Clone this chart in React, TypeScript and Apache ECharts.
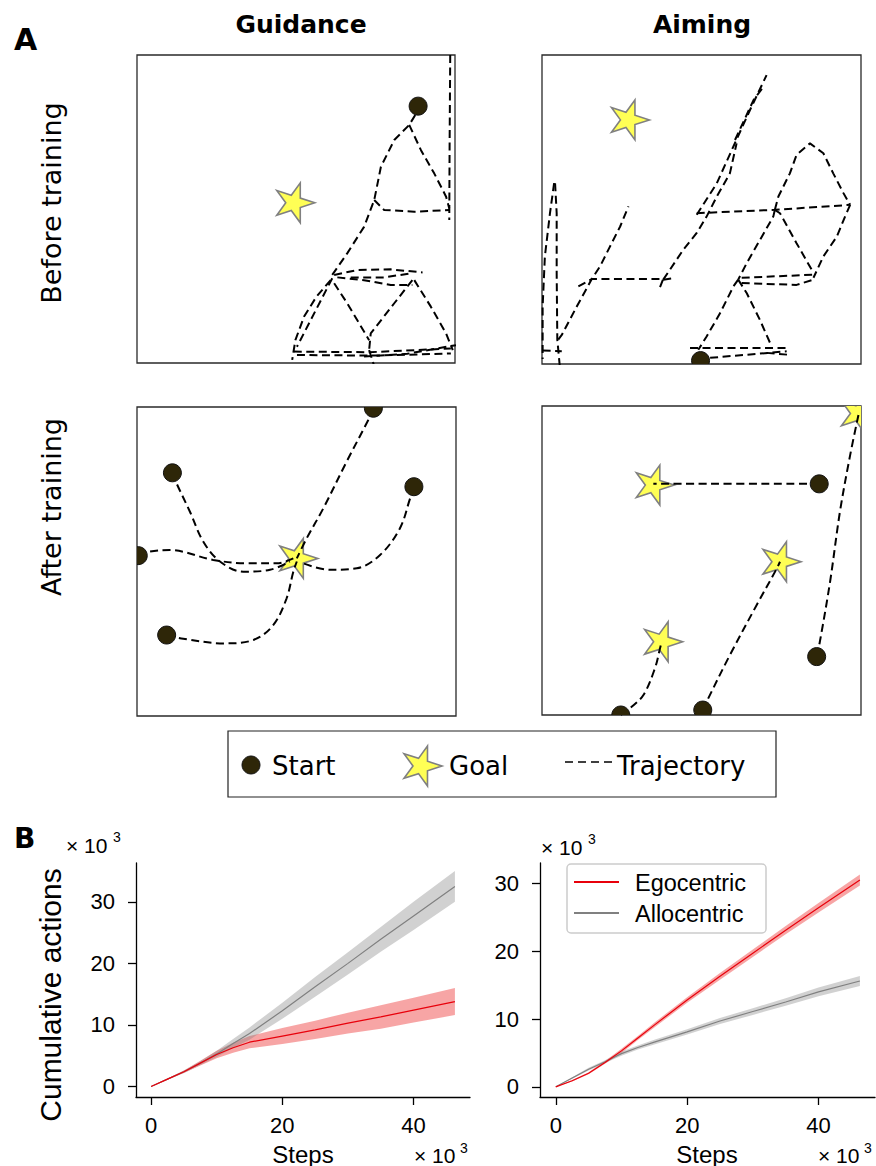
import React, { useEffect, useRef } from "react";
import * as echarts from "echarts";

// ---------------- Panel A data (panel coordinates, 0-100) ----------------
const guidanceBeforeStarts = [[88.4, 83.4]];
const guidanceBeforeGoals = [[49.3, 52.0]];
const guidanceBeforeTraj = [
  [[98.5, 100], [98.3, 70], [98.2, 46.4]],
  [[87.5, 80.5], [85.6, 77.3], [80.9, 72.4], [76.7, 63.7], [74.6, 52.9], [71.4, 44.2], [66.1, 35.6], [61.4, 28.6]],
  [[85.6, 77.3], [89.3, 69.1], [93.5, 61.5], [97.2, 54.0], [98.2, 50.2]],
  [[74.6, 52.9], [77.7, 49.7], [87.2, 49.1], [98.2, 49.7]],
  [[62.0, 28.6], [69.3, 30.2], [79.8, 30.4], [89.8, 29.4]],
  [[63.0, 27.8], [71.4, 26.9], [79.8, 25.3], [86.6, 25.3]],
  [[67.2, 27.8], [77.7, 27.8], [86.1, 29.1]],
  [[60.9, 26.9], [56.4, 21.5], [52.5, 15.0], [49.8, 7.4], [48.8, 1.0]],
  [[61.4, 27.5], [50.3, 5.3]],
  [[62.0, 25.9], [66.1, 19.4], [73.0, 7.4]],
  [[86.6, 26.9], [80.9, 19.4], [73.5, 9.6], [73.0, 4.2]],
  [[87.2, 26.9], [92.4, 18.3], [97.2, 9.6], [99.3, 4.2]],
  [[49.3, 3.7], [73.0, 3.5], [98.7, 4.7]],
  [[50.3, 2.6], [75.0, 2.4], [98.7, 3.1]],
  [[71.4, 2.1], [85.0, 3.0], [100.3, 5.8]],
  [[73.0, 4.2], [74.6, -1]],
];

const aimingBeforeStarts = [[49.7, 1.1]];
const aimingBeforeGoals = [[27.1, 79.0]];
const aimingBeforeTraj = [
  [[4.1, 58.5], [4.6, 48.8], [4.6, 29.5], [4.8, 7.9], [5.6, -1]],
  [[3.8, 58.5], [2.5, 48.8], [0.9, 34.8], [0.2, 18.6], [0.2, 1.6]],
  [[0.2, 4.4], [6.2, 4.1]],
  [[5.1, 7.9], [6.2, 9.4], [10.9, 18.6], [15.6, 27.5], [18.2, 31.6], [21.3, 38.0], [24.5, 44.5], [27.1, 51.0]],
  [[11.4, 25.1], [15.6, 27.5], [38.0, 27.5], [36.9, 24.6]],
  [[38.0, 27.3], [41.7, 27.8]],
  [[38.0, 27.3], [40.1, 30.5], [44.3, 37.0], [48.5, 42.4], [51.6, 47.7], [54.8, 54.2], [58.9, 61.7], [61.0, 71.4]],
  [[48.5, 48.3], [54.8, 58.5], [60.0, 70.4], [65.2, 82.2], [70.4, 93.5]],
  [[60.5, 72.5], [66.3, 85.4], [69.4, 89.7]],
  [[48.5, 48.8], [73.0, 49.9], [96.6, 51.5]],
  [[73.0, 49.9], [74.1, 54.2], [77.7, 61.7], [79.8, 67.7], [84.0, 71.4], [88.2, 68.2], [91.3, 61.7], [94.5, 55.3], [96.6, 51.5]],
  [[96.6, 51.5], [95.0, 47.7], [92.4, 41.2], [88.2, 34.8], [85.1, 27.9]],
  [[73.0, 49.9], [74.6, 48.8], [79.8, 39.1], [85.1, 29.5]],
  [[73.0, 49.9], [72.5, 47.7], [68.3, 40.1], [64.2, 32.7], [61.5, 27.3]],
  [[62.6, 27.9], [85.1, 28.9]],
  [[62.6, 26.2], [79.8, 25.6], [85.1, 27.3]],
  [[61.5, 27.3], [60.0, 25.1], [55.8, 16.4], [51.6, 8.9], [49.0, 4.6]],
  [[61.5, 27.3], [64.2, 22.9], [68.3, 14.3], [71.5, 6.8]],
  [[46.4, 5.2], [77.7, 5.2]],
  [[52.7, 2.0], [76.7, 4.1]],
  [[70.4, 3.6], [77.2, 3.0]],
];

const guidanceAfterStarts = [[74.1, 99.6], [11.1, 78.7], [86.8, 74.2], [0.4, 51.9], [9.3, 26.2]];
const guidanceAfterGoals = [[50.1, 51.0]];
const guidanceAfterTraj = [
  [[74.1, 99.6], [72.5, 95.8], [65.7, 82.3], [58.4, 67.2], [53.2, 57.5], [50.1, 51.0]],
  [[11.1, 78.7], [12.4, 75.3], [16.6, 66.1], [20.8, 56.4], [26.0, 50.0], [33.3, 46.7], [41.7, 47.3], [47.9, 50.0]],
  [[0.4, 51.9], [4.1, 53.2], [10.3, 53.7], [23.9, 50.5], [34.4, 49.4], [43.8, 49.4], [49.0, 51.0]],
  [[86.8, 74.2], [85.6, 70.4], [82.4, 60.7], [76.2, 52.1], [68.9, 47.8], [60.5, 47.3], [52.1, 49.4]],
  [[9.3, 26.2], [14.5, 25.0], [27.1, 23.5], [36.5, 24.6], [42.7, 29.4], [46.9, 38.1], [49.0, 46.7], [50.1, 50.0]],
];

const aimingAfterStarts = [[86.9, 74.8], [86.1, 18.9], [50.4, 1.6], [24.7, 0.0]];
const aimingAfterGoals = [[34.9, 74.4], [74.6, 49.6], [37.5, 23.7], [99.2, 97.6]];
const aimingAfterTraj = [
  [[86.9, 74.8], [34.9, 74.8]],
  [[86.1, 18.9], [87.1, 23.7], [90.3, 43.1], [93.4, 65.8], [96.6, 84.1], [99.2, 97.1]],
  [[50.4, 1.6], [51.6, 4.3], [58.9, 19.4], [67.3, 35.6], [73.6, 47.4], [74.6, 49.6]],
  [[24.7, 0.0], [27.6, 2.2], [31.8, 6.5], [35.4, 15.1], [37.0, 21.6], [37.5, 23.7]],
];

// ---------------- Panel B data (x 10^3) ----------------
const steps = [0, 2.5, 5, 7.5, 10, 12.5, 15, 20, 25, 30, 35, 40, 46.3];
const xTicks = [0, 20, 40];
const yTicks = [0, 10, 20, 30];

const guidanceEgoMean = [0, 1.2, 2.4, 3.8, 5.2, 6.3, 7.2, 8.2, 9.2, 10.3, 11.3, 12.4, 13.8];
const guidanceEgoLow = [0, 1.1, 2.2, 3.4, 4.6, 5.5, 6.2, 6.9, 7.7, 8.6, 9.4, 10.4, 11.6];
const guidanceEgoHigh = [0, 1.3, 2.6, 4.2, 5.8, 7.1, 8.2, 9.5, 10.7, 12.0, 13.2, 14.4, 16.0];
const guidanceAlloMean = [0, 1.2, 2.4, 3.8, 5.3, 7.0, 8.6, 12.3, 16.2, 20.0, 23.9, 27.7, 32.5];
const guidanceAlloLow = [0, 1.1, 2.2, 3.5, 4.8, 6.3, 7.6, 11.0, 14.6, 18.2, 21.9, 25.4, 30.0];
const guidanceAlloHigh = [0, 1.3, 2.6, 4.1, 5.8, 7.7, 9.6, 13.6, 17.8, 21.8, 25.9, 30.0, 35.0];

const aimingEgoMean = [0, 0.9, 2.0, 3.6, 5.3, 7.2, 9.1, 12.8, 16.3, 19.7, 23.1, 26.4, 30.5];
const aimingEgoLow = [0, 0.8, 1.85, 3.4, 5.0, 6.9, 8.75, 12.4, 15.8, 19.15, 22.5, 25.7, 29.7];
const aimingEgoHigh = [0, 1.0, 2.15, 3.8, 5.6, 7.5, 9.45, 13.2, 16.8, 20.25, 23.7, 27.1, 31.3];
const aimingAlloMean = [0, 1.3, 2.6, 3.7, 4.9, 5.8, 6.6, 8.1, 9.7, 11.1, 12.5, 14.0, 15.6];
const aimingAlloLow = [0, 1.2, 2.4, 3.5, 4.6, 5.5, 6.25, 7.7, 9.25, 10.6, 11.95, 13.35, 14.85];
const aimingAlloHigh = [0, 1.4, 2.8, 3.9, 5.2, 6.1, 6.95, 8.5, 10.15, 11.6, 13.05, 14.65, 16.35];

// ---------------- helpers ----------------
const STAR_FILL = "#ffff55";
const STAR_STROKE = "#808080";
const START_FILL = "#2e2608";
const EGO = "#e8000b";
const ALLO = "#808080";
const EGO_BAND = "rgba(235,30,30,0.4)";
const ALLO_BAND = "rgba(128,128,128,0.36)";
const FA = "DejaVu Sans";
const FB = "Liberation Sans";
const DASH = [8, 4.5];

function starPoints(cx: number, cy: number, R: number) {
  const pts: number[][] = [];
  for (let k = 0; k < 10; k++) {
    const a = ((18 + 36 * k) * Math.PI) / 180;
    const r = k % 2 === 0 ? R : R * 0.382;
    pts.push([cx + r * Math.sin(a), cy - r * Math.cos(a)]);
  }
  return pts;
}

function panelSeries(idx: number, traj: number[][][], starts: number[][], goals: number[][], smooth: boolean) {
  const out: any[] = [];
  out.push({
    type: "custom",
    xAxisIndex: idx,
    yAxisIndex: idx,
    data: goals,
    clip: true,
    silent: true,
    z: 2,
    renderItem: (params: any, api: any) => {
      const p = api.coord([api.value(0), api.value(1)]);
      return {
        type: "polygon",
        shape: { points: starPoints(p[0], p[1], 21) },
        style: { fill: STAR_FILL, stroke: STAR_STROKE, lineWidth: 1.6 },
      };
    },
  });
  traj.forEach((t) => {
    out.push({
      type: "line",
      xAxisIndex: idx,
      yAxisIndex: idx,
      data: t,
      symbol: "none",
      showSymbol: false,
      smooth: smooth ? 0.35 : false,
      clip: true,
      silent: true,
      z: 3,
      lineStyle: { color: "#000", width: 2, type: DASH },
    });
  });
  out.push({
    type: "custom",
    xAxisIndex: idx,
    yAxisIndex: idx,
    data: starts,
    clip: true,
    silent: true,
    z: 4,
    renderItem: (params: any, api: any) => {
      const p = api.coord([api.value(0), api.value(1)]);
      return {
        type: "circle",
        shape: { cx: p[0], cy: p[1], r: 9 },
        style: { fill: START_FILL, stroke: "#111", lineWidth: 1 },
      };
    },
  });
  return out;
}

function bandSeries(idx: number, lo: number[], hi: number[], color: string) {
  return {
    type: "custom",
    xAxisIndex: idx,
    yAxisIndex: idx,
    silent: true,
    z: 1,
    data: steps.map((x, i) => [x, lo[i], hi[i]]),
    encode: { x: 0, y: [1, 2] },
    renderItem: (params: any, api: any) => {
      if (params.dataIndex !== 0) return { type: "group", children: [] };
      const pts: number[][] = [];
      for (let i = 0; i < steps.length; i++) pts.push(api.coord([steps[i], hi[i]]));
      for (let i = steps.length - 1; i >= 0; i--) pts.push(api.coord([steps[i], lo[i]]));
      return { type: "polygon", shape: { points: pts }, style: { fill: color } };
    },
  };
}

function meanSeries(idx: number, name: string, vals: number[], color: string) {
  return {
    type: "line",
    name,
    xAxisIndex: idx,
    yAxisIndex: idx,
    data: steps.map((x, i) => [x, vals[i]]),
    symbol: "none",
    showSymbol: false,
    silent: true,
    z: 3,
    lineStyle: { color, width: 1.2 },
  };
}

const hiddenAxis = (i: number) => ({ type: "value", gridIndex: i, min: 0, max: 100, show: false });

const bXAxis = (i: number, min: number, max: number) => ({
  type: "value",
  gridIndex: i,
  min,
  max,
  axisLine: { show: true, onZero: false, lineStyle: { color: "#000", width: 1.3 } },
  axisTick: { show: true, length: 8, customValues: xTicks, lineStyle: { color: "#000", width: 1.3 } },
  axisLabel: { customValues: xTicks, color: "#000", fontSize: 22, fontFamily: FB, margin: 17 },
  splitLine: { show: false },
});

const bYAxis = (i: number, min: number, max: number) => ({
  type: "value",
  gridIndex: i,
  min,
  max,
  axisLine: { show: true, onZero: false, lineStyle: { color: "#000", width: 1.3 } },
  axisTick: { show: true, length: 8, customValues: yTicks, lineStyle: { color: "#000", width: 1.3 } },
  axisLabel: { customValues: yTicks, color: "#000", fontSize: 22, fontFamily: FB, margin: 21 },
  splitLine: { show: false },
});

function txt(text: string, x: number, y: number, font: string, align = "left", extra: any = {}) {
  return {
    type: "text",
    x,
    y,
    silent: true,
    ...extra,
    style: { text, font, fill: "#000", align, verticalAlign: "middle" },
  };
}

export default function App() {
  const ref = useRef<HTMLDivElement>(null);
  useEffect(() => {
    if (!ref.current) return;
    const chart = echarts.init(ref.current, undefined, { renderer: "svg" });
    const boxStyle = { show: true, borderColor: "#2a2a2a", borderWidth: 1.3, backgroundColor: "transparent" };
    const option: any = {
      animation: false,
      backgroundColor: "#fff",
      grid: [
        { left: 137, top: 55, width: 318, height: 308, ...boxStyle },
        { left: 542, top: 55, width: 319, height: 309, ...boxStyle },
        { left: 137, top: 407, width: 319, height: 309, ...boxStyle },
        { left: 542, top: 406, width: 319, height: 309, ...boxStyle },
        { left: 136, top: 863, width: 334, height: 234 },
        { left: 540, top: 863, width: 335, height: 234 },
      ],
      xAxis: [hiddenAxis(0), hiddenAxis(1), hiddenAxis(2), hiddenAxis(3), bXAxis(4, -2.3, 48.6), bXAxis(5, -2.4, 48.6)],
      yAxis: [hiddenAxis(0), hiddenAxis(1), hiddenAxis(2), hiddenAxis(3), bYAxis(4, -1.7, 36.3), bYAxis(5, -1.5, 33)],
      series: [
        ...panelSeries(0, guidanceBeforeTraj, guidanceBeforeStarts, guidanceBeforeGoals, false),
        ...panelSeries(1, aimingBeforeTraj, aimingBeforeStarts, aimingBeforeGoals, false),
        ...panelSeries(2, guidanceAfterTraj, guidanceAfterStarts, guidanceAfterGoals, true),
        ...panelSeries(3, aimingAfterTraj, aimingAfterStarts, aimingAfterGoals, true),
        bandSeries(4, guidanceEgoLow, guidanceEgoHigh, EGO_BAND),
        bandSeries(4, guidanceAlloLow, guidanceAlloHigh, ALLO_BAND),
        meanSeries(4, "Allocentric", guidanceAlloMean, ALLO),
        meanSeries(4, "Egocentric", guidanceEgoMean, EGO),
        bandSeries(5, aimingEgoLow, aimingEgoHigh, EGO_BAND),
        bandSeries(5, aimingAlloLow, aimingAlloHigh, ALLO_BAND),
        meanSeries(5, "Allocentric", aimingAlloMean, ALLO),
        meanSeries(5, "Egocentric", aimingEgoMean, EGO),
      ],
      graphic: {
        elements: [
          // Panel A labels
          txt("A", 14, 39, `bold 30px ${FA}`),
          txt("Guidance", 301, 24, `bold 25px ${FA}`, "center"),
          txt("Aiming", 702, 24, `bold 25px ${FA}`, "center"),
          txt("Before training", 51, 203, `27px ${FA}`, "center", { rotation: Math.PI / 2 }),
          txt("After training", 51, 507, `27px ${FA}`, "center", { rotation: Math.PI / 2 }),
          // Panel A legend
          {
            type: "rect",
            silent: true,
            shape: { x: 228, y: 731, width: 548, height: 66 },
            style: { fill: "#fff", stroke: "#222", lineWidth: 1.2 },
          },
          {
            type: "circle",
            silent: true,
            shape: { cx: 251, cy: 765, r: 9 },
            style: { fill: START_FILL, stroke: "#111", lineWidth: 1 },
          },
          txt("Start", 272, 766, `26px ${FA}`),
          {
            type: "polygon",
            silent: true,
            shape: { points: starPoints(421, 766, 21) },
            style: { fill: STAR_FILL, stroke: STAR_STROKE, lineWidth: 1.6 },
          },
          txt("Goal", 449, 766, `26px ${FA}`),
          {
            type: "line",
            silent: true,
            shape: { x1: 565, y1: 762, x2: 616, y2: 762 },
            style: { stroke: "#000", lineWidth: 1.6, lineDash: [8, 5] },
          },
          txt("Trajectory", 617, 766, `26px ${FA}`),
          // Panel B labels
          txt("B", 14, 838, `bold 28px ${FA}`),
          txt("Cumulative actions", 50, 995, `30px ${FB}`, "center", { rotation: Math.PI / 2 }),
          txt("× 10", 66, 845, `21px ${FB}`),
          txt("3", 113, 837, `14px ${FB}`),
          txt("× 10", 541, 847, `21px ${FB}`),
          txt("3", 588, 839, `14px ${FB}`),
          txt("Steps", 303, 1154, `24px ${FB}`, "center"),
          txt("Steps", 707, 1154, `24px ${FB}`, "center"),
          txt("× 10", 414, 1155, `21px ${FB}`),
          txt("3", 460, 1148, `14px ${FB}`),
          txt("× 10", 818, 1155, `21px ${FB}`),
          txt("3", 864, 1148, `14px ${FB}`),
          // Panel B legend
          {
            type: "rect",
            silent: true,
            shape: { x: 567, y: 864, width: 199, height: 69, r: 4 },
            style: { fill: "rgba(255,255,255,0.85)", stroke: "#cccccc", lineWidth: 1.5 },
            z: 10,
          },
          {
            type: "line",
            silent: true,
            z: 11,
            shape: { x1: 574, y1: 882, x2: 619, y2: 882 },
            style: { stroke: EGO, lineWidth: 2 },
          },
          {
            type: "line",
            silent: true,
            z: 11,
            shape: { x1: 574, y1: 913, x2: 619, y2: 913 },
            style: { stroke: ALLO, lineWidth: 2 },
          },
          txt("Egocentric", 635, 883, `23.5px ${FB}`, "left", { z: 11 }),
          txt("Allocentric", 635, 914, `23.5px ${FB}`, "left", { z: 11 }),
        ],
      },
    };
    chart.setOption(option);
    return () => chart.dispose();
  }, []);
  return (
    <div
      ref={ref}
      style={{ position: "absolute", left: 0, top: 0, width: 876, height: 1166, background: "#fff" }}
    />
  );
}
